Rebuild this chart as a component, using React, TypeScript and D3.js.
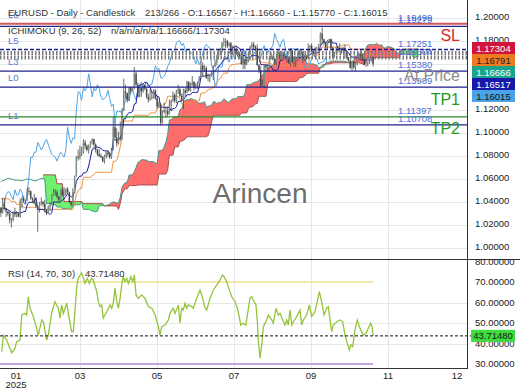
import React from 'react';
import * as d3 from 'd3';

// prices are kept in 1/10000 units
const SCALE = 10000;

const closes = [
  10308, 10390, 10343, 10318, 10300, 10244, 10245, 10309, 10291, 10300,
  10272, 10415, 10430, 10410, 10414, 10495, 10493, 10430, 10421, 10390,
  10362, 10345, 10380, 10402, 10383, 10330, 10308, 10362, 10380, 10465,
  10490, 10484, 10448, 10420, 10506, 10459, 10465, 10512, 10485, 10398,
  10376, 10483, 10622, 10790, 10785, 10833, 10833, 10918, 10888, 10853,
  10880, 10922, 10945, 10900, 10855, 10815, 10800, 10790, 10755, 10800,
  10830, 10815, 10790, 10852, 11050, 10960, 10910, 10957, 10950, 11200,
  11360, 11348, 11285, 11395, 11367, 11395, 11515, 11420, 11315, 11390,
  11365, 11420, 11385, 11315, 11290, 11300, 11315, 11370, 11300, 11230,
  11250, 11090, 11190, 11185, 11190, 11165, 11240, 11280, 11330, 11280,
  11365, 11380, 11325, 11290, 11370, 11350, 11445, 11370, 11420, 11445,
  11395, 11420, 11425, 11485, 11585, 11550, 11565, 11480, 11480, 11495,
  11525, 11580, 11610, 11665, 11700, 11720, 11785, 11800, 11800, 11760,
  11780, 11710, 11725, 11720, 11700, 11690, 11665, 11600, 11640, 11595,
  11625, 11695, 11750, 11770, 11750, 11740, 11590, 11545, 11405, 11415,
  11585, 11570, 11575, 11660, 11665, 11640, 11615, 11675, 11705, 11645,
  11700, 11665, 11650, 11650, 11610, 11720, 11620, 11640, 11640, 11685,
  11685, 11710, 11640, 11660, 11645, 11720, 11760, 11710, 11695, 11735,
  11735, 11765, 11865, 11815, 11785, 11745, 11800, 11815, 11740, 11665,
  11700, 11725, 11735, 11730, 11715, 11740, 11710, 11660, 11630, 11565,
  11620, 11570, 11605, 11645, 11690, 11655, 11645, 11600, 11610, 11615,
  11625, 11657, 11602,
];

const highs = [
  10330, 10436, 10437, 10350, 10320, 10320, 10260, 10320, 10350, 10320,
  10310, 10430, 10440, 10455, 10420, 10520, 10530, 10500, 10440, 10470,
  10410, 10370, 10400, 10440, 10410, 10420, 10340, 10370, 10400, 10470,
  10515, 10510, 10505, 10450, 10510, 10530, 10528, 10520, 10530, 10490,
  10410, 10520, 10630, 10800, 10855, 10890, 10880, 10945, 10940, 10900,
  10900, 10930, 10955, 10950, 10910, 10860, 10860, 10820, 10800, 10810,
  10840, 10850, 10830, 10870, 11145, 11100, 11040, 11010, 11100, 11215,
  11473, 11420, 11350, 11400, 11400, 11400, 11573, 11530, 11440, 11400,
  11390, 11425, 11420, 11390, 11340, 11380, 11365, 11380, 11380, 11320,
  11270, 11260, 11200, 11265, 11225, 11230, 11290, 11290, 11360, 11345,
  11375, 11420, 11390, 11345, 11385, 11390, 11455, 11450, 11435, 11495,
  11450, 11435, 11450, 11495, 11630, 11615, 11590, 11580, 11520, 11500,
  11540, 11590, 11640, 11680, 11720, 11740, 11790, 11830, 11820, 11810,
  11790, 11790, 11760, 11750, 11750, 11720, 11700, 11700, 11720, 11645,
  11665, 11705, 11760, 11790, 11790, 11760, 11770, 11600, 11580, 11465,
  11600, 11600, 11600, 11670, 11700, 11680, 11650, 11690, 11730, 11715,
  11715, 11700, 11690, 11670, 11660, 11740, 11720, 11660, 11660, 11700,
  11725, 11720, 11710, 11680, 11680, 11780, 11765, 11780, 11730, 11750,
  11750, 11775, 11875, 11918, 11820, 11790, 11810, 11820, 11820, 11750,
  11705, 11750, 11755, 11780, 11745, 11750, 11770, 11710, 11660, 11635,
  11630, 11625, 11615, 11650, 11700, 11730, 11690, 11660, 11630, 11625,
  11640, 11665, 11666,
];

const lows = [
  10270, 10300, 10330, 10270, 10280, 10215, 10178, 10230, 10270, 10265,
  10270, 10265, 10345, 10390, 10385, 10410, 10460, 10420, 10390, 10380,
  10350, 10141, 10310, 10370, 10360, 10310, 10285, 10300, 10320, 10370,
  10455, 10455, 10430, 10400, 10410, 10450, 10450, 10455, 10470, 10390,
  10360, 10370, 10480, 10620, 10760, 10770, 10800, 10820, 10860, 10840,
  10820, 10870, 10900, 10870, 10830, 10800, 10790, 10780, 10745, 10735,
  10780, 10790, 10775, 10775, 10850, 10950, 10880, 10900, 10930, 10940,
  11190, 11300, 11265, 11280, 11340, 11360, 11380, 11410, 11310, 11310,
  11315, 11350, 11370, 11300, 11265, 11280, 11290, 11300, 11290, 11210,
  11220, 11065, 11080, 11170, 11130, 11140, 11160, 11200, 11270, 11260,
  11260, 11340, 11310, 11280, 11210, 11310, 11350, 11360, 11360, 11410,
  11370, 11380, 11385, 11410, 11480, 11490, 11530, 11470, 11450, 11440,
  11490, 11460, 11570, 11590, 11640, 11680, 11700, 11750, 11740, 11740,
  11745, 11680, 11680, 11690, 11680, 11660, 11650, 11590, 11555, 11556,
  11590, 11615, 11680, 11715, 11730, 11715, 11585, 11520, 11400, 11400,
  11391, 11540, 11530, 11560, 11640, 11630, 11590, 11590, 11670, 11630,
  11640, 11650, 11640, 11610, 11600, 11580, 11610, 11575, 11575, 11625,
  11640, 11680, 11610, 11625, 11630, 11645, 11700, 11700, 11690, 11660,
  11710, 11720, 11760, 11780, 11760, 11730, 11730, 11780, 11730, 11645,
  11655, 11690, 11700, 11710, 11690, 11695, 11650, 11645, 11620, 11560,
  11540, 11560, 11540, 11590, 11630, 11650, 11630, 11590, 11575, 11580,
  11600, 11620, 11577,
];

const openFirst = 10354;

const tenkan = [
  10340, 10345, 10345, 10345, 10331, 10326, 10308, 10308, 10308, 10308,
  10308, 10304, 10309, 10317, 10317, 10375, 10398, 10398, 10398, 10398,
  10438, 10336, 10336, 10336, 10336, 10321, 10306, 10306, 10291, 10306,
  10400, 10400, 10400, 10400, 10400, 10415, 10425, 10450, 10465, 10460,
  10445, 10445, 10495, 10580, 10608, 10625, 10625, 10653, 10653, 10663,
  10713, 10783, 10858, 10863, 10878, 10878, 10873, 10868, 10850, 10845,
  10845, 10843, 10823, 10803, 10940, 10940, 10940, 10940, 10960, 10995,
  11124, 11124, 11162, 11177, 11177, 11187, 11252, 11257, 11382, 11419,
  11419, 11427, 11442, 11437, 11419, 11398, 11353, 11345, 11345, 11318,
  11315, 11228, 11223, 11223, 11223, 11223, 11223, 11193, 11213, 11213,
  11228, 11275, 11275, 11280, 11290, 11310, 11333, 11333, 11333, 11353,
  11353, 11353, 11353, 11403, 11490, 11495, 11495, 11500, 11500, 11505,
  11508, 11520, 11540, 11560, 11580, 11590, 11615, 11635, 11645, 11645,
  11700, 11710, 11735, 11755, 11755, 11745, 11735, 11700, 11673, 11673,
  11658, 11653, 11658, 11673, 11673, 11673, 11673, 11655, 11595, 11595,
  11591, 11591, 11591, 11581, 11581, 11546, 11546, 11546, 11561, 11630,
  11630, 11645, 11660, 11660, 11660, 11660, 11660, 11658, 11658, 11658,
  11658, 11658, 11658, 11658, 11648, 11678, 11678, 11695, 11695, 11695,
  11695, 11703, 11753, 11782, 11789, 11789, 11789, 11789, 11814, 11782,
  11782, 11782, 11733, 11733, 11733, 11733, 11733, 11713, 11700, 11670,
  11660, 11660, 11655, 11655, 11655, 11635, 11635, 11635, 11635, 11635,
  11635, 11653, 11652,
];

const kijun = [
  10428, 10428, 10428, 10428, 10428, 10423, 10404, 10404, 10404, 10379,
  10379, 10379, 10379, 10354, 10354, 10354, 10354, 10354, 10354, 10354,
  10354, 10336, 10336, 10336, 10336, 10336, 10336, 10336, 10336, 10336,
  10336, 10336, 10336, 10336, 10336, 10336, 10336, 10336, 10336, 10336,
  10336, 10336, 10386, 10471, 10498, 10516, 10516, 10615, 10615, 10615,
  10615, 10615, 10628, 10638, 10658, 10658, 10658, 10658, 10658, 10658,
  10658, 10658, 10658, 10658, 10753, 10753, 10763, 10813, 10883, 10975,
  11104, 11104, 11104, 11104, 11104, 11104, 11154, 11154, 11154, 11154,
  11154, 11154, 11154, 11154, 11154, 11174, 11174, 11174, 11174, 11212,
  11227, 11227, 11237, 11252, 11257, 11319, 11319, 11319, 11319, 11319,
  11319, 11319, 11298, 11253, 11245, 11260, 11260, 11260, 11260, 11280,
  11280, 11280, 11280, 11280, 11348, 11348, 11348, 11355, 11380, 11380,
  11385, 11395, 11420, 11445, 11465, 11475, 11500, 11520, 11520, 11520,
  11570, 11590, 11595, 11595, 11600, 11600, 11605, 11608, 11620, 11635,
  11635, 11635, 11635, 11635, 11635, 11645, 11645, 11675, 11615, 11615,
  11611, 11611, 11611, 11606, 11601, 11591, 11591, 11591, 11591, 11591,
  11591, 11591, 11591, 11591, 11591, 11591, 11591, 11591, 11591, 11591,
  11581, 11581, 11566, 11566, 11566, 11586, 11655, 11655, 11670, 11678,
  11678, 11678, 11725, 11747, 11747, 11747, 11747, 11747, 11747, 11747,
  11747, 11747, 11747, 11747, 11764, 11764, 11764, 11764, 11769, 11739,
  11729, 11729, 11729, 11729, 11729, 11729, 11729, 11729, 11729, 11680,
  11680, 11680, 11680,
];

// leading spans (shifted 26 bars ahead), indices 0..238
const spanA = [
  10575, 10585, 10590, 10600, 10605, 10605, 10600, 10595, 10590, 10590,
  10590, 10585, 10585, 10590, 10595, 10600, 10600, 10595, 10590, 10585,
  10585, 10590, 10600, 10605, 10605, 10600, 10384, 10387, 10387, 10387,
  10380, 10375, 10356, 10356, 10356, 10344, 10344, 10342, 10344, 10336,
  10336, 10365, 10376, 10376, 10376, 10376, 10396, 10336, 10336, 10336,
  10336, 10329, 10321, 10321, 10314, 10321, 10368, 10368, 10368, 10368,
  10368, 10376, 10381, 10393, 10401, 10398, 10391, 10391, 10441, 10526,
  10553, 10571, 10571, 10634, 10634, 10639, 10664, 10699, 10743, 10751,
  10768, 10768, 10766, 10763, 10754, 10752, 10752, 10751, 10741, 10731,
  10847, 10847, 10852, 10877, 10922, 10985, 11114, 11114, 11133, 11141,
  11141, 11146, 11203, 11206, 11268, 11287, 11287, 11291, 11298, 11296,
  11287, 11286, 11264, 11260, 11260, 11265, 11271, 11228, 11230, 11238,
  11240, 11271, 11271, 11256, 11266, 11266, 11274, 11297, 11287, 11267,
  11268, 11285, 11297, 11297, 11297, 11317, 11317, 11317, 11317, 11342,
  11419, 11422, 11422, 11428, 11440, 11443, 11447, 11458, 11480, 11503,
  11523, 11533, 11558, 11578, 11583, 11583, 11635, 11650, 11665, 11675,
  11678, 11673, 11670, 11654, 11647, 11654, 11647, 11644, 11647, 11654,
  11654, 11659, 11659, 11665, 11605, 11605, 11601, 11601, 11601, 11594,
  11591, 11569, 11569, 11569, 11576, 11611, 11611, 11618, 11626, 11626,
  11626, 11626, 11625, 11625, 11625, 11625, 11620, 11620, 11612, 11612,
  11607, 11632, 11667, 11675, 11683, 11687, 11687, 11691, 11739, 11765,
  11768, 11768, 11768, 11768, 11781, 11765, 11765, 11765, 11740, 11740,
  11749, 11749, 11749, 11739, 11735, 11705, 11695, 11695, 11692, 11692,
  11692, 11682, 11682, 11682, 11682, 11658, 11658, 11667, 11667,
];

const spanB: (number | null)[] = [
  null, null, null, null, null, null, null, null, null, null,
  null, null, null, null, null, null, null, null, null, null,
  null, null, null, null, 10636, 10636, 10636, 10636, 10636, 10636,
  10636, 10636, 10559, 10559, 10559, 10559, 10404, 10404, 10404, 10404,
  10404, 10404, 10404, 10404, 10404, 10404, 10404, 10386, 10386, 10386,
  10386, 10386, 10386, 10386, 10386, 10386, 10386, 10386, 10386, 10366,
  10366, 10366, 10366, 10366, 10366, 10366, 10366, 10336, 10386, 10471,
  10498, 10516, 10516, 10543, 10543, 10543, 10543, 10543, 10548, 10548,
  10548, 10548, 10548, 10548, 10548, 10548, 10548, 10548, 10548, 10548,
  10643, 10643, 10643, 10643, 10643, 10678, 10807, 10807, 10807, 10879,
  10879, 10879, 10929, 10929, 10937, 10947, 10967, 10967, 10967, 10967,
  10967, 10967, 10967, 10967, 10967, 10967, 10967, 10967, 10977, 11027,
  11097, 11154, 11154, 11154, 11154, 11154, 11154, 11154, 11154, 11154,
  11154, 11154, 11154, 11154, 11154, 11154, 11154, 11174, 11174, 11174,
  11174, 11212, 11227, 11227, 11237, 11252, 11257, 11319, 11319, 11319,
  11319, 11319, 11428, 11448, 11448, 11448, 11448, 11448, 11448, 11448,
  11448, 11448, 11448, 11448, 11448, 11448, 11448, 11448, 11448, 11455,
  11480, 11480, 11485, 11495, 11515, 11520, 11520, 11520, 11520, 11520,
  11520, 11520, 11570, 11590, 11595, 11595, 11600, 11600, 11605, 11608,
  11611, 11611, 11611, 11611, 11611, 11611, 11611, 11611, 11611, 11611,
  11611, 11611, 11611, 11611, 11611, 11606, 11601, 11591, 11633, 11655,
  11655, 11655, 11655, 11655, 11655, 11655, 11655, 11655, 11655, 11655,
  11655, 11655, 11655, 11655, 11655, 11655, 11655, 11655, 11724, 11724,
  11729, 11729, 11729, 11729, 11729, 11729, 11729, 11729, 11729,
];

const rsiIdx = [
  0.5, 1.4, 3.3, 5.2, 6.2, 8.0, 9.0, 10.9, 11.9, 13.7,
  14.7, 15.6, 16.6, 18.5, 20.4, 21.3, 23.3, 24.2, 26.1, 27.0,
  28.9, 30.8, 32.7, 33.7, 34.6, 35.6, 37.5, 38.4, 40.3, 41.3,
  43.2, 44.1, 46.0, 47.0, 47.9, 49.2, 50.4, 51.7, 52.6, 54.6,
  55.5, 56.5, 57.4, 58.3, 60.3, 62.2, 63.1, 64.0, 65.0, 66.0,
  66.9, 67.9, 68.8, 69.7, 70.7, 71.7, 72.6, 74.0, 75.1, 76.0,
  77.0, 78.3, 80.2, 82.1, 84.0, 85.9, 87.8, 89.7, 90.6, 91.6,
  93.5, 95.4, 96.3, 98.2, 99.2, 101.1, 102.0, 103.0, 103.9, 104.9,
  105.8, 106.8, 108.7, 109.6, 111.5, 113.4, 114.4, 116.3, 117.2, 119.1,
  121.0, 122.9, 124.8, 126.1, 127.1, 128.6, 129.5, 130.5, 131.5, 133.4,
  134.7, 135.8, 136.6, 138.1, 139.5, 140.4, 141.9, 142.9, 144.2, 145.3,
  146.1, 146.6, 147.6, 148.6, 149.5, 151.4, 152.3, 154.3, 155.2, 156.7,
  158.0, 159.0, 160.5, 161.8, 162.8, 163.7, 164.7, 165.7, 166.6, 168.5,
  169.4, 170.4, 171.3, 172.3, 174.2, 175.7, 177.0, 178.9, 180.2, 181.4,
  182.7, 184.1, 185.6, 186.5, 187.5, 188.4, 189.3, 191.3, 193.2, 194.7,
  196.0, 197.3, 198.5, 199.3, 200.4, 201.7, 203.0, 204.2, 205.5, 206.4,
  208.0, 209.3, 210.6, 211.4, 212.1,
];

const rsiVal = [
  36, 44, 41.7, 37.6, 35.4, 37.6, 40.9, 41.7, 53.9, 54.7,
  53.9, 62.8, 57.2, 53.1, 47.4, 44.1, 51.5, 50.6, 41.7, 44.1,
  54.7, 60.4, 57.2, 52.4, 58.8, 54.7, 59.7, 54.7, 45.8, 45.8,
  67.7, 71.9, 74.4, 71.8, 69.3, 71.8, 69.3, 71.8, 71, 65.3,
  60.4, 58, 58.8, 52.4, 55.5, 58.8, 57.2, 59.6, 67, 60.4,
  57.2, 62, 68.5, 72.6, 70.2, 71.8, 69.3, 72.6, 70.2, 73.4,
  63.7, 62, 63.7, 62, 58, 57.2, 54, 48.2, 44.1, 48.2,
  49, 51.5, 54.7, 57.2, 54.7, 58.8, 50, 57.2, 56.4, 59.6,
  57.2, 58.8, 58, 57.2, 62, 66, 63.7, 57.2, 56.3, 62,
  66, 68.5, 70.9, 73.4, 72.6, 70.2, 67.7, 65.3, 62.8, 60.4,
  57.2, 53.1, 49, 49.9, 49, 53.9, 62.2, 62.8, 60.4, 58.8,
  50.6, 41.7, 33, 39.3, 48.2, 51.5, 53.9, 51.5, 49.9, 57.2,
  53.9, 54.7, 51.5, 49, 51.5, 49, 56.3, 49, 50.6, 53.1,
  54.7, 56.3, 49, 51.5, 53.9, 58.8, 53.1, 55.5, 60.4, 65.3,
  60.4, 53.9, 57.2, 58, 51.5, 45.8, 49, 50.6, 51.5, 50.6,
  44.1, 40.1, 36.8, 39.3, 38.5, 46.6, 51.5, 48.2, 45.8, 44.1,
  45, 47.4, 49.9, 48.2, 43.7,
];

const rsiLast = 43.7148;

const priceTicks = [1.0, 1.02, 1.04, 1.06, 1.08, 1.1, 1.12, 1.14, 1.16, 1.18, 1.2];
const rsiTicks = [30, 40, 50, 60, 70, 80];
const monthLabels = ['01', '03', '05', '07', '09', '11', '12'];
const monthPos = [9.1, 45.6, 89.4, 133.3, 177.1, 221.0, 260.3];

// horizontal levels
const levelVals = [1.19499, 1.19279, 1.17251, 1.1695, 1.1656, 1.1538, 1.13989, 1.11397, 1.10708];
const levelKind = ['red', 'navy', 'dash', 'dot', 'dot', 'navy', 'navy', 'green', 'navy'];
const levelText = ['1.19499', '1.19279', '1.17251', '', '1.16604', '1.15380', '1.13989', '1.11397', '1.10708'];
const levelNames = ['L6', '', 'L5', '', '', 'L3', 'L0', '', 'L1'];

const tradeLabels = ['SL', 'At Price', 'TP1', 'TP2'];
const tradeVals = [1.18, 1.1452, 1.12435, 1.09913];
const tradeColors = ['#d42a2a', '#8c8c8c', '#1f9a1f', '#1f9a1f'];

const boxVals = [1.17304, 1.16791, 1.16666, 1.16517, 1.16015];
const boxFill = ['#d1143c', '#ee7a22', '#1aa58a', '#1717a8', '#4aa2e8'];
const boxInk = ['#ffffff', '#222222', '#ffffff', '#ffffff', '#111111'];

const FONT = '"Liberation Sans", Arial, sans-serif';
const FS = 9.5;

export default function App() {
  const x = d3.scaleLinear().domain([0, 266]).range([0, 467]);
  const y = d3.scaleLinear().domain([1.0, 1.2]).range([248, 18]);
  const yr = d3.scaleLinear().domain([30, 70]).range([364, 282]);
  const bx = (i: number) => x(i + 0.5);
  const py = (v: number) => y(v / SCALE);

  const seriesPath = (arr: (number | null)[], off = 0) =>
    d3.line<number | null>()
      .defined(v => v != null)
      .x((_, i) => bx(i + off))
      .y(v => py(v as number))(arr) as string;

  const cloudIdx = d3.range(24, spanA.length);
  const band = d3.area<number>().x(j => bx(j)).y0(j => py(spanA[j])).y1(j => py(spanB[j] as number))(cloudIdx) as string;
  const above = d3.area<number>().x(j => bx(j)).y0(0).y1(j => py(spanB[j] as number))(cloudIdx) as string;
  const below = d3.area<number>().x(j => bx(j)).y0(259).y1(j => py(spanB[j] as number))(cloudIdx) as string;

  const chikou = closes.slice(26);

  const rsiPath = d3.line<number>().x((_, k) => bx(rsiIdx[k])).y(v => yr(v))(rsiVal) as string;

  // stacked value boxes on the price axis
  const boxY: number[] = [];
  boxVals.forEach((v, k) => {
    const yy = y(v) - 1;
    boxY.push(k === 0 ? yy : Math.max(yy, boxY[k - 1] + 12));
  });
  const shownTicks = priceTicks.filter(t => boxY.every(b => Math.abs(y(t) - b) > 7));

  const levelStyle = (kind: string) => {
    if (kind === 'red') return { stroke: '#d25a5a', strokeWidth: 2 };
    if (kind === 'green') return { stroke: '#2b8a2b', strokeWidth: 1.3 };
    if (kind === 'dash') return { stroke: '#1d1d8a', strokeWidth: 1.5, strokeDasharray: '4,2' };
    if (kind === 'dot') return { stroke: '#7a7a7a', strokeWidth: 4, strokeDasharray: '1.5,2' };
    return { stroke: '#23238c', strokeWidth: 1.3 };
  };

  return (
    <div style={{ position: 'absolute', left: 0, top: 0 }}>
      <svg width={520} height={390} style={{ display: 'block', background: '#fff', fontFamily: FONT }}>
        <defs>
          <clipPath id="pricePanel"><rect x={0} y={0} width={467} height={259} /></clipPath>
          <clipPath id="rsiPanel"><rect x={0} y={260} width={467} height={108} /></clipPath>
          <clipPath id="above"><path d={above} /></clipPath>
          <clipPath id="below"><path d={below} /></clipPath>
        </defs>

        {/* grid */}
        <g stroke="#e7e7e7" strokeWidth={1}>
          {priceTicks.map(t => <line key={'pg' + t} x1={0} x2={467} y1={Math.round(y(t)) + 0.5} y2={Math.round(y(t)) + 0.5} />)}
          {rsiTicks.slice(1, 4).map(t => <line key={'rg' + t} x1={0} x2={467} y1={Math.round(yr(t)) + 0.5} y2={Math.round(yr(t)) + 0.5} />)}
          {monthPos.slice(1, 6).map(m => <line key={'vg' + m} x1={Math.round(x(m)) + 0.5} x2={Math.round(x(m)) + 0.5} y1={0} y2={368} />)}
        </g>

        <g clipPath="url(#pricePanel)">
          {/* cloud */}
          <path d={band} fill="#ff5c5c" fillOpacity={0.9} clipPath="url(#above)" />
          <path d={band} fill="#5fee5f" fillOpacity={0.9} clipPath="url(#below)" />
          <path d={seriesPath(spanB)} fill="none" stroke="#a84a4a" strokeWidth={1} />
          <path d={seriesPath(spanA)} fill="none" stroke="#3f9a86" strokeWidth={1} />

          <path d={seriesPath(chikou)} fill="none" stroke="#4ea4e6" strokeWidth={1} />
          <path d={seriesPath(kijun)} fill="none" stroke="#f0923e" strokeWidth={1} />
          <path d={seriesPath(tenkan)} fill="none" stroke="#1b1ba6" strokeWidth={1} />

          {/* candles */}
          {closes.map((c, i) => {
            const o = i === 0 ? openFirst : closes[i - 1];
            const cx = bx(i);
            const top = py(Math.max(o, c));
            const bot = py(Math.min(o, c));
            return (
              <g key={'c' + i}>
                <line x1={cx} x2={cx} y1={py(highs[i])} y2={py(lows[i])} stroke="#474747" strokeWidth={0.8} />
                <rect x={cx - 0.7} y={top} width={1.4} height={Math.max(0.8, bot - top)} fill={c >= o ? '#7f9087' : '#454545'} />
              </g>
            );
          })}

          {/* levels */}
          {levelVals.map((v, k) => (
            <line key={'lv' + k} x1={0} x2={467} y1={y(v)} y2={y(v)} {...levelStyle(levelKind[k])} />
          ))}
          {levelVals.map((v, k) => levelText[k] ? (
            <text key={'lt' + k} x={398} y={y(v) - 3} fontSize={FS} fill="#4d6fd6">{levelText[k]}</text>
          ) : null)}
          {levelVals.map((v, k) => levelNames[k] ? (
            <text key={'ln' + k} x={8} y={y(v) - 6} fontSize={FS} fill="#5b7bd5">{levelNames[k]}</text>
          ) : null)}

          {tradeLabels.map((t, k) => (
            <text key={'tl' + k} x={460} y={y(tradeVals[k])} fontSize={16} textAnchor="end" fill={tradeColors[k]}>{t}</text>
          ))}

          <text x={260} y={203} fontSize={28} textAnchor="middle" fill="#6e6e6e">Arincen</text>

          <text x={8} y={16} fontSize={FS} fill="#333">EURUSD - Daily - Candlestick</text>
          <text x={145} y={16} fontSize={FS} fill="#333">213/266 - O:1.16567 - H:1.16660 - L:1.15770 - C:1.16015</text>
          <text x={8} y={34} fontSize={FS} fill="#333">ICHIMOKU (9, 26, 52)</text>
          <text x={111} y={34} fontSize={FS} fill="#333">n/a/n/a/n/a/1.16666/1.17304</text>
        </g>

        {/* RSI panel */}
        <g clipPath="url(#rsiPanel)">
          <line x1={0} x2={bx(212)} y1={yr(70)} y2={yr(70)} stroke="#efe08c" strokeWidth={1.5} />
          <line x1={0} x2={bx(212)} y1={yr(30)} y2={yr(30)} stroke="#c7a6df" strokeWidth={2} />
          <path d={rsiPath} fill="none" stroke="#93c43a" strokeWidth={1.3} />
          <text x={8} y={277} fontSize={FS} fill="#333">RSI (14, 70, 30)</text>
          <text x={85} y={277} fontSize={FS} fill="#333">43.71480</text>
        </g>
        <line x1={0} x2={472} y1={yr(rsiLast)} y2={yr(rsiLast)} stroke="#111" strokeWidth={1} strokeDasharray="3,2" />

        {/* frame */}
        <line x1={467.5} x2={467.5} y1={0} y2={369} stroke="#333" strokeWidth={1} />
        <line x1={0} x2={520} y1={259.5} y2={259.5} stroke="#333" strokeWidth={1} />
        <line x1={0} x2={468} y1={368.5} y2={368.5} stroke="#333" strokeWidth={1} />

        {/* price axis */}
        {shownTicks.map(t => (
          <text key={'pt' + t} x={475} y={y(t) + 1.5} fontSize={FS} fill="#222">{t.toFixed(5)}</text>
        ))}
        {boxVals.map((v, k) => (
          <g key={'bx' + k}>
            <rect x={472} y={boxY[k] - 6} width={43} height={12} fill={boxFill[k]} />
            <text x={493.5} y={boxY[k] + 3.5} fontSize={FS} textAnchor="middle" fill={boxInk[k]}>{v.toFixed(5)}</text>
          </g>
        ))}

        {/* RSI axis */}
        {rsiTicks.map(t => (
          <text key={'rt' + t} x={475} y={yr(t) + 3} fontSize={FS} fill="#222">{t.toFixed(5)}</text>
        ))}
        <rect x={471} y={yr(rsiLast) - 6} width={44} height={12} fill="#3ddc3d" />
        <text x={493} y={yr(rsiLast) + 3.5} fontSize={FS} textAnchor="middle" fill="#1a1a1a">{rsiLast.toFixed(5)}</text>

        {/* time axis */}
        {monthLabels.map((m, k) => (
          <text key={'m' + k} x={x(monthPos[k])} y={379} fontSize={FS} textAnchor="middle" fill="#222">{m}</text>
        ))}
        <text x={16} y={388} fontSize={FS} textAnchor="middle" fill="#222">2025</text>
      </svg>
    </div>
  );
}
